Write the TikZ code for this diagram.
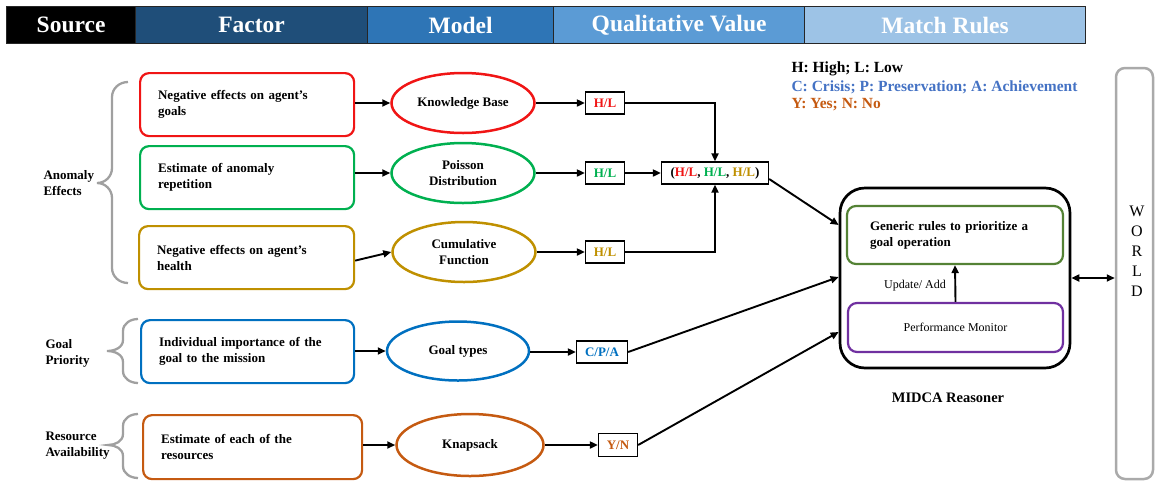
\documentclass[tikz,border=0pt]{standalone}
\usepackage{fontspec}
\setmainfont{Liberation Serif}
\usetikzlibrary{shapes.geometric,arrows.meta,calc}
\definecolor{cred}{HTML}{F01515}
\definecolor{cgreen}{HTML}{00B050}
\definecolor{cgold}{HTML}{BF9000}
\definecolor{cblue}{HTML}{0070C0}
\definecolor{corange}{HTML}{C55A11}
\definecolor{clegblue}{HTML}{4472C4}
\definecolor{colive}{HTML}{548235}
\definecolor{cpurple}{HTML}{7030A0}
\definecolor{cgray}{HTML}{A0A0A0}
\definecolor{hfactor}{HTML}{1F4E79}
\definecolor{hmodel}{HTML}{2E75B6}
\definecolor{hqual}{HTML}{5B9BD5}
\definecolor{hmatch}{HTML}{9DC3E6}
\begin{document}
\begin{tikzpicture}[x=1pt,y=-1pt,
 hdr/.style={draw=black!85,line width=1.2pt,anchor=north west,minimum height=37pt,inner sep=0,text=white,font=\fontsize{23.5}{26}\selectfont\bfseries},
 fbox/.style={draw,line width=2.2pt,rounded corners=9pt,minimum height=63pt,inner xsep=18pt,inner ysep=0pt,align=left,font=\fontsize{13}{16}\selectfont\bfseries,anchor=north west},
 ell/.style={ellipse,draw,line width=2.5pt,inner sep=0pt,minimum width=143pt,minimum height=60pt,align=center,font=\fontsize{13}{16}\selectfont\bfseries},
 qv/.style={draw,line width=1.3pt,inner sep=0pt,minimum height=22pt,font=\fontsize{13}{16}\selectfont\bfseries},
 arr/.style={line width=1.9pt,-{Triangle[length=8pt,width=7pt]}},
 darr/.style={line width=1.9pt,{Triangle[length=8pt,width=7pt]}-{Triangle[length=8pt,width=7pt]}},
 brace/.style={draw=cgray,line width=2.3pt},
 lab/.style={anchor=west,align=left,font=\fontsize{13}{16}\selectfont\bfseries},
 leg/.style={anchor=west,font=\fontsize{15.5}{18}\selectfont\bfseries}]
\useasboundingbox (0,0) rectangle (1155,480);

% header
\node[hdr,fill=black,minimum width=129pt] (hsrc) at (6,6) {Source};
\node[hdr,fill=hfactor,minimum width=232pt] (hfac) at (135,6) {Factor};
\node[hdr,fill=hmodel,minimum width=186pt] (hmod) at (367,6) {Model};
\node[hdr,fill=hqual,minimum width=251pt] (hqv) at (553,6) {Qualitative Value};
\node[hdr,fill=hmatch,minimum width=281pt] (hmr) at (804,6) {Match Rules};

% factor boxes
\node[fbox,draw=cred,minimum width=214pt,text width=178pt] (rb) at (139,72) {Negative effects on agent's\\goals};
\node[fbox,draw=cgreen,minimum width=214pt,text width=178pt] (gb) at (139,145) {Estimate of anomaly\\repetition};
\node[fbox,draw=cgold,minimum width=215pt,text width=179pt] (yb) at (138,225) {Negative effects on agent's\\health};
\node[fbox,draw=cblue,minimum width=213pt,text width=177pt] (bb) at (140,319) {Individual importance of the\\goal to the mission};
\node[fbox,draw=corange,minimum width=219pt,minimum height=64pt,text width=183pt] (ob) at (142,414) {Estimate of each of the\\resources};

% source labels and braces
\node[lab] (lae) at (40,183) {Anomaly\\Effects};
\node[lab] (lgp) at (42,353) {Goal\\Priority};
\node[lab] (lra) at (42,446) {Resource\\Availability};
\draw[brace] (128,82) to[out=180,in=90] (112,97) -- (112,168) to[out=-90,in=0] (97,183) to[out=0,in=90] (112,198) -- (112,268) to[out=-90,in=180] (128,283);
\draw[brace] (138,319) to[out=180,in=90] (123,331) -- (123,340) to[out=-90,in=0] (107,351) to[out=0,in=90] (123,362) -- (123,371) to[out=-90,in=180] (138,383);
\draw[brace] (138,414) to[out=180,in=90] (123,426) -- (123,434) to[out=-90,in=0] (108,445) to[out=0,in=90] (123,456) -- (123,466) to[out=-90,in=180] (138,478);

% models
\node[ell,draw=cred] (kb) at (463,103) {Knowledge Base};
\node[ell,draw=cgreen] (pd) at (463,173) {Poisson\\Distribution};
\node[ell,draw=cgold] (cf) at (464,252) {Cumulative\\Function};
\node[ell,draw=cblue,minimum width=142pt,minimum height=59pt] (gt) at (458,351) {Goal types};
\node[ell,draw=corange,minimum width=147pt,minimum height=62pt] (ks) at (470,445) {Knapsack};

% qualitative values
\node[qv,minimum width=39pt,text=cred] (hl1) at (605,103) {H/L};
\node[qv,minimum width=39pt,text=cgreen] (hl2) at (605,173) {H/L};
\node[qv,minimum width=39pt,text=cgold] (hl3) at (605,252) {H/L};
\node[qv,minimum width=107pt] (comb) at (715,173) {(\textcolor{cred}{H/L}, \textcolor{cgreen}{H/L}, \textcolor{cgold}{H/L})};
\node[qv,minimum width=51pt,text=cblue] (cpa) at (602,352) {C/P/A};
\node[qv,minimum width=39pt,minimum height=23pt,text=corange] (yn) at (618,445) {Y/N};

% legend
\node[leg] (leg1) at (788,69) {H: High; L: Low};
\node[leg,text=clegblue] (leg2) at (788,87) {C: Crisis; P: Preservation; A: Achievement};
\node[leg,text=corange] (leg3) at (788,105) {Y: Yes; N: No};

% MIDCA
\node[draw,line width=2.7pt,rounded corners=25pt,minimum width=230pt,minimum height=180pt] (midca) at (955,278) {};
\node[draw=colive,line width=2.2pt,rounded corners=9pt,minimum width=216pt,minimum height=58pt,inner xsep=23pt,text width=170pt,align=left,font=\fontsize{13}{16}\selectfont\bfseries] (gr) at (955,235) {Generic rules to prioritize a\\goal operation};
\node[draw=cpurple,line width=2.2pt,rounded corners=9pt,minimum width=215pt,minimum height=49pt,font=\fontsize{12}{14}\selectfont] (pm) at (955.5,327.5) {Performance Monitor};
\node[font=\fontsize{12}{14}\selectfont] (upd) at (915,286) {Update/ Add};
\node[font=\fontsize{14.5}{17}\selectfont\bfseries] (mlab) at (948,398) {MIDCA Reasoner};

% world
\node[draw=cgray!90,line width=2.5pt,rounded corners=9pt,minimum width=37pt,minimum height=411pt] (world) at (1134.5,273.5) {};
\node[align=center,font=\fontsize{16}{20}\selectfont] (wtxt) at (1137,251) {W\\O\\R\\L\\D};

% connectors
\draw[arr] (rb.east |- kb.west) -- (kb.west);
\draw[arr] (gb.east |- pd.west) -- (pd.west);
\draw[arr] ([yshift=-3pt]yb.east) -- (cf.west);
\draw[arr] (bb.east |- gt.west) -- (gt.west);
\draw[arr] (ob.east |- ks.west) -- (ks.west);
\draw[arr] (kb.east) -- (hl1.west);
\draw[arr] (pd.east) -- (hl2.west);
\draw[arr] (cf.east) -- (hl3.west);
\draw[arr] (gt.east |- cpa.west) -- (cpa.west);
\draw[arr] (ks.east) -- (yn.west);
\draw[arr] (hl1.east) -| (comb.north);
\draw[arr] (hl2.east) -- (comb.west);
\draw[arr] (hl3.east) -| (comb.south);
\draw[arr] ([yshift=-6pt]comb.east) -- ([yshift=53pt]midca.west);
\draw[arr] (cpa.east) -- ([yshift=1pt]midca.west);
\draw[arr] (yn.east) -- ([yshift=-54pt]midca.west);
\draw[arr] (pm.north) -- (gr.south);
\draw[darr] (midca.east) -- (world.west |- midca.east);
\end{tikzpicture}
\end{document}
